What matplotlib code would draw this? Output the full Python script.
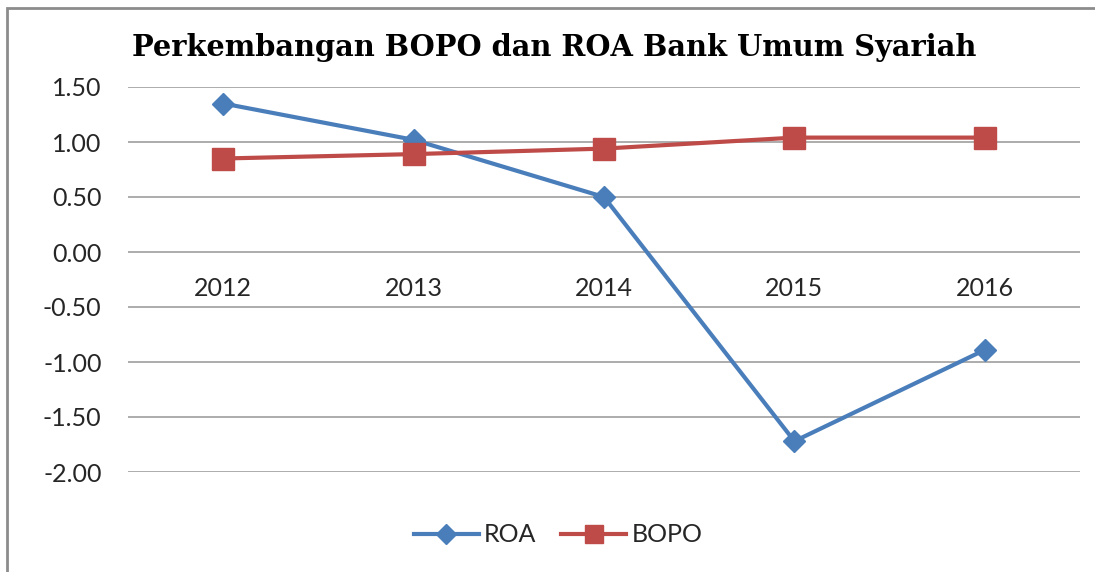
import matplotlib
matplotlib.use("Agg")
import matplotlib.pyplot as plt
from matplotlib.patches import Rectangle

years = ["2012", "2013", "2014", "2015", "2016"]
roa = [1.35, 1.02, 0.50, -1.72, -0.89]
bopo = [0.85, 0.89, 0.94, 1.04, 1.04]
yticks = [-2.0, -1.5, -1.0, -0.5, 0.0, 0.5, 1.0, 1.5]
title = "Perkembangan BOPO dan ROA Bank Umum Syariah"

W, H = 1095, 572
fig = plt.figure(figsize=(W / 100, H / 100), dpi=100)
ax = fig.add_axes([128 / W, 1 - 472 / H, (1080 - 128) / W, (472 - 87) / H])

x = list(range(len(years)))
blue = "#4A7EBB"
red = "#BE4B48"
ax.plot(x, roa, color=blue, lw=3.0, marker="D", ms=11, label="ROA", zorder=3)
ax.plot(x, bopo, color=red, lw=3.0, marker="s", ms=16, label="BOPO", zorder=3)

ax.set_xlim(-0.5, len(years) - 0.5)
ax.set_ylim(-2.0, 1.5)
ax.set_yticks(yticks)
ax.set_yticklabels([f"{v:.2f}" for v in yticks])
ax.set_xticks(x)
ax.set_xticklabels(years)

ax.grid(axis="y", color="#A6A6A6", lw=1.3)
ax.set_axisbelow(True)
for s in ["left", "right", "top"]:
    ax.spines[s].set_visible(False)
ax.spines["bottom"].set_position(("data", 0))
ax.spines["bottom"].set_visible(False)
ax.tick_params(axis="x", length=0, pad=18, labelsize=18, labelcolor="#262626")
ax.tick_params(axis="y", length=0, pad=19, labelsize=18, labelcolor="#262626")
for lab in ax.get_xticklabels() + ax.get_yticklabels():
    lab.set_fontfamily("Lato")

fig.text(554 / W, 1 - 47 / H, title, ha="center", va="center",
         fontsize=20.8, fontweight="bold", family="DejaVu Serif")

leg = fig.legend(loc="center", bbox_to_anchor=(558 / W, 1 - 535 / H), ncol=2,
                 frameon=False, prop={"family": "Lato", "size": 18},
                 handlelength=2.6, handletextpad=0.2, columnspacing=1.0)
for t in leg.get_texts():
    t.set_color("#262626")
for h in leg.legend_handles:
    if h.get_marker() == "D":
        h.set_markersize(10)
    else:
        h.set_markersize(13)

fig.patches.append(Rectangle((7 / W, -0.05), 1.2, 1.05 - 8 / H,
                             transform=fig.transFigure, fill=False,
                             edgecolor="#8C8C8C", lw=2))

fig.savefig("out.png", dpi=100)
